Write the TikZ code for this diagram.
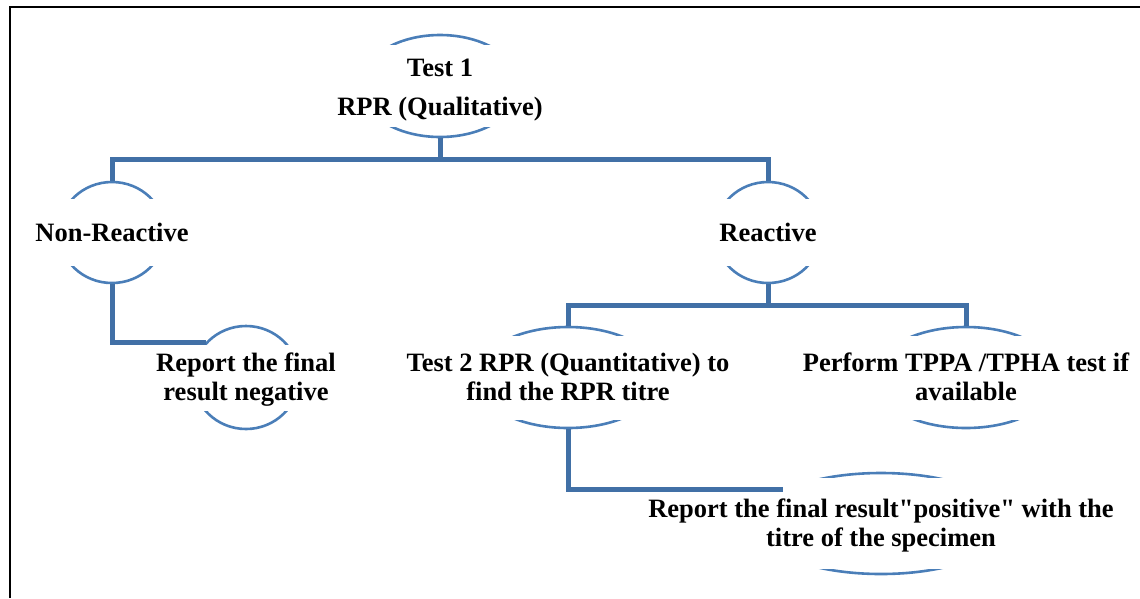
\documentclass[tikz,border=0pt]{standalone}
\usepackage{fontspec}
\setmainfont{Liberation Serif}[Ligatures=TeXOff]
\usetikzlibrary{shapes.geometric}
\definecolor{arcblue}{RGB}{74,126,184}
\definecolor{linkblue}{RGB}{65,112,166}
% text block set a little lower inside its white box
\newcommand{\lowered}[2]{\raisebox{-#1}[\height][\depth]{\begin{tabular}{@{}c@{}}#2\end{tabular}}}

\begin{document}
\begin{tikzpicture}[x=1pt, y=-1pt,
  bub/.style={ellipse, draw=arcblue, line width=2.6pt, inner sep=0pt},
  lbl/.style={fill=white, inner sep=0pt, minimum width=130pt,
    font=\fontsize{26.5}{29}\selectfont\bfseries},
  conn/.style={draw=linkblue, line width=5pt}]
  \useasboundingbox (0,0) rectangle (1140,598);
  \draw[line width=1.8pt] (10,598) -- (10,7) -- (1140,7);

  % bubbles
  \node[bub, minimum width=160pt, minimum height=102pt] (t1) at (440,86) {};
  \node[bub, minimum width=106pt, minimum height=101pt] (nr) at (112,232.5) {};
  \node[bub, minimum width=106pt, minimum height=101pt] (re) at (768,232.5) {};
  \node[bub, minimum width=106pt, minimum height=103pt] (rn) at (246,377.5) {};
  \node[bub, minimum width=185pt, minimum height=101pt] (t2) at (568,377.5) {};
  \node[bub, minimum width=185pt, minimum height=101pt] (tp) at (966,377.5) {};
  \node[bub, minimum width=256pt, minimum height=101pt] (rp) at (881,523.5) {};

  % labels
  \node[lbl, minimum height=82pt] (t1l) at (t1) {\lowered{4pt}{Test 1\\[10pt]RPR (Qualitative)}};
  \node[lbl, minimum height=67pt] (nrl) at (nr) {Non-Reactive};
  \node[lbl, minimum height=67pt] (rel) at (re) {Reactive};
  \node[lbl, minimum height=66pt] (rnl) at (rn) {\lowered{3pt}{Report the final\\result negative}};
  \node[lbl, minimum height=84pt] (t2l) at (t2) {\lowered{3pt}{Test 2 RPR (Quantitative) to\\find the RPR titre}};
  \node[lbl, minimum height=84pt] (tpl) at (tp) {\lowered{3pt}{Perform TPPA /TPHA test if\\available}};
  \node[lbl, minimum height=91pt] (rpl) at (rp) {\lowered{3pt}{Report the final result"positive" with the\\titre of the specimen}};

  % connectors
  \draw[conn] (t1.south) -- ++(0,21) -| (nr.north);
  \draw[conn] (t1.south) -- ++(0,21) -| (re.north);
  \draw[conn] (nr.south) |- (rn.139);
  \draw[conn] (re.south) -- ++(0,21) -| (t2.north);
  \draw[conn] (re.south) -- ++(0,21) -| (tp.north);
  \draw[conn] (t2.south) |- (rp.161);
\end{tikzpicture}
\end{document}
